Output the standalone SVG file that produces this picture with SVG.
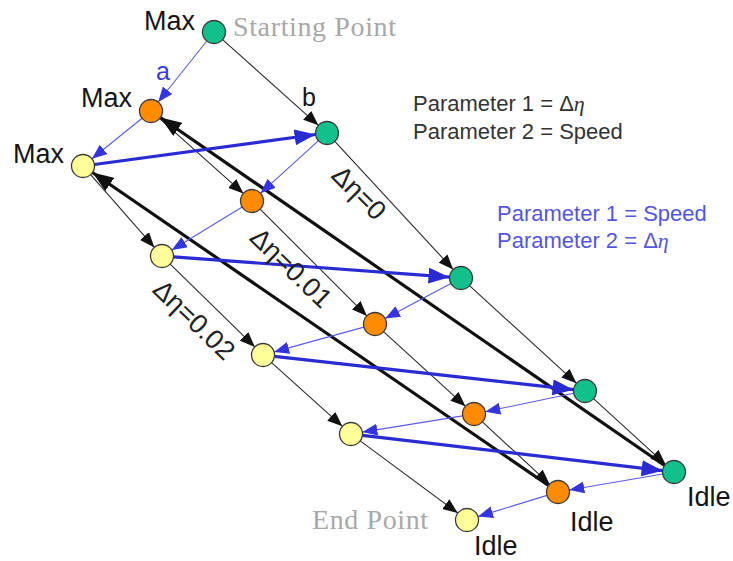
<svg xmlns="http://www.w3.org/2000/svg" width="733" height="561" viewBox="0 0 733 561">
<defs>
<style>
.n{stroke:#3a3a3a;stroke-width:1.3}
.g{fill:#12c08c}.o{fill:#ff8c00}.y{fill:#ffff99}
.tb{stroke:#2a2a2a;stroke-width:1.1;fill:none}
.kb{stroke:#111;stroke-width:3.2;fill:none}
.bb{stroke:#2b2bd2;stroke-width:3.2;fill:none}
.bt{stroke:#5a5ae6;stroke-width:1.1;fill:none}
.lbl{font-family:"Liberation Sans",Arial,sans-serif;font-size:27px;fill:#151515}
.par{font-family:"Liberation Sans",Arial,sans-serif;font-size:22px;fill:#333}
.parb{font-family:"Liberation Sans",Arial,sans-serif;font-size:22px;fill:#5555dd}
.ser{font-family:"Liberation Serif","Times New Roman",serif;font-size:28px;fill:#a8a8a8}
.rot{font-family:"Liberation Sans",Arial,sans-serif;font-size:27px;fill:#222}
.eta{font-family:"Liberation Serif",serif;font-style:italic}
</style>
<marker id="mtb" markerUnits="userSpaceOnUse" markerWidth="15" markerHeight="12" refX="15" refY="6" orient="auto"><path d="M0,0 L15,6 L0,12 z" fill="#111"/></marker>
<marker id="mkb" markerUnits="userSpaceOnUse" markerWidth="21" markerHeight="16" refX="21" refY="8" orient="auto"><path d="M0,0 L21,8 L0,16 z" fill="#111"/></marker>
<marker id="mbb" markerUnits="userSpaceOnUse" markerWidth="21" markerHeight="16" refX="21" refY="8" orient="auto"><path d="M0,0 L21,8 L0,16 z" fill="#2b2bd2"/></marker>
<marker id="mbt" markerUnits="userSpaceOnUse" markerWidth="15" markerHeight="12" refX="15" refY="6" orient="auto"><path d="M0,0 L15,6 L0,12 z" fill="#3535e0"/></marker>
</defs>
<rect width="733" height="561" fill="#fff"/>
<g id="connectors">
<g marker-end="url(#mtb)" class="tb">
<line x1="222.6" y1="39.7" x2="318.4" y2="125.3"/>
<line x1="334.8" y1="141.4" x2="453.2" y2="269.5"/>
<line x1="469.5" y1="285.7" x2="576.5" y2="383.3"/>
<line x1="593.5" y1="398.7" x2="665.5" y2="464.3"/>
<line x1="159.6" y1="118.6" x2="243.4" y2="193.4"/>
<line x1="260.1" y1="209.1" x2="366.9" y2="315.9"/>
<line x1="383.5" y1="331.7" x2="465.5" y2="406.3"/>
<line x1="482.4" y1="421.8" x2="549.6" y2="484.2"/>
<line x1="90.6" y1="174.6" x2="154.4" y2="247.4"/>
<line x1="170.2" y1="264.1" x2="254.8" y2="346.9"/>
<line x1="271.6" y1="362.7" x2="342.4" y2="426.3"/>
<line x1="360.2" y1="440.9" x2="457.8" y2="513.1"/>
</g>
<g marker-end="url(#mkb)" class="kb">
<line x1="664.5" y1="465.5" x2="160.5" y2="117.5"/>
<line x1="548.5" y1="485.5" x2="92.5" y2="172.5"/>
</g>
<g marker-end="url(#mbb)" class="bb">
<line x1="94.4" y1="164.5" x2="315.6" y2="134.5"/>
<line x1="173.5" y1="256.8" x2="449.5" y2="277.2"/>
<line x1="274.4" y1="356.3" x2="573.6" y2="389.7"/>
<line x1="362.4" y1="435.3" x2="662.6" y2="470.7"/>
</g>
<g marker-end="url(#mbt)" class="bt">
<line x1="206.8" y1="41" x2="158.2" y2="102"/>
<line x1="142.1" y1="118.2" x2="91.9" y2="158.8"/>
<line x1="318.5" y1="140.7" x2="260.5" y2="193.3"/>
<line x1="242.2" y1="207" x2="171.8" y2="250"/>
<line x1="450.9" y1="283.4" x2="385.1" y2="318.6"/>
<line x1="363.9" y1="327.1" x2="274.1" y2="351.9"/>
<line x1="573.7" y1="393.3" x2="485.3" y2="411.7"/>
<line x1="462.6" y1="415.9" x2="362.4" y2="432.1"/>
<line x1="662.7" y1="474" x2="569.3" y2="490"/>
<line x1="547" y1="495.4" x2="478" y2="516.6"/>
</g>
</g>
<g id="G1"><circle class="n g" cx="214" cy="32" r="11.5"/></g>
<g id="G2"><circle class="n g" cx="327" cy="133" r="11.5"/></g>
<g id="G3"><circle class="n g" cx="461" cy="278" r="11.5"/></g>
<g id="G4"><circle class="n g" cx="585" cy="391" r="11.5"/></g>
<g id="G5"><circle class="n g" cx="674" cy="472" r="11.5"/></g>
<g id="O1"><circle class="n o" cx="151" cy="111" r="11.5"/></g>
<g id="O2"><circle class="n o" cx="252" cy="201" r="11.5"/></g>
<g id="O3"><circle class="n o" cx="375" cy="324" r="11.5"/></g>
<g id="O4"><circle class="n o" cx="474" cy="414" r="11.5"/></g>
<g id="O5"><circle class="n o" cx="558" cy="492" r="11.5"/></g>
<g id="Y1"><circle class="n y" cx="83" cy="166" r="11.5"/></g>
<g id="Y2"><circle class="n y" cx="162" cy="256" r="11.5"/></g>
<g id="Y3"><circle class="n y" cx="263" cy="355" r="11.5"/></g>
<g id="Y4"><circle class="n y" cx="351" cy="434" r="11.5"/></g>
<g id="Y5"><circle class="n y" cx="467" cy="520" r="11.5"/></g>
<g id="labels">
<text class="lbl" x="144" y="30">Max</text>
<text class="ser" x="233" y="36" textLength="163">Starting Point</text>
<text class="lbl" x="156" y="80" style="fill:#3a3ad8;font-size:25px">a</text>
<text class="lbl" x="81" y="107">Max</text>
<text class="lbl" x="302" y="106" style="font-size:25px">b</text>
<text class="lbl" x="13" y="163">Max</text>
<text class="par" x="413" y="111">Parameter 1 = Δ<tspan class="eta">η</tspan></text>
<text class="par" x="413" y="139">Parameter 2 = Speed</text>
<text class="parb" x="497" y="221">Parameter 1 = Speed</text>
<text class="parb" x="497" y="248">Parameter 2 = Δ<tspan class="eta">η</tspan></text>
<text class="rot" transform="translate(359,193) rotate(45)" text-anchor="middle" dy="9">Δη=0</text>
<text class="rot" transform="translate(291,268) rotate(44)" text-anchor="middle" dy="9">Δη=0.01</text>
<text class="rot" transform="translate(194,320) rotate(44)" text-anchor="middle" dy="9">Δη=0.02</text>
<text class="ser" x="312" y="529" textLength="116">End Point</text>
<text class="lbl" x="474" y="555">Idle</text>
<text class="lbl" x="570" y="531">Idle</text>
<text class="lbl" x="687" y="506">Idle</text>
</g>
</svg>
